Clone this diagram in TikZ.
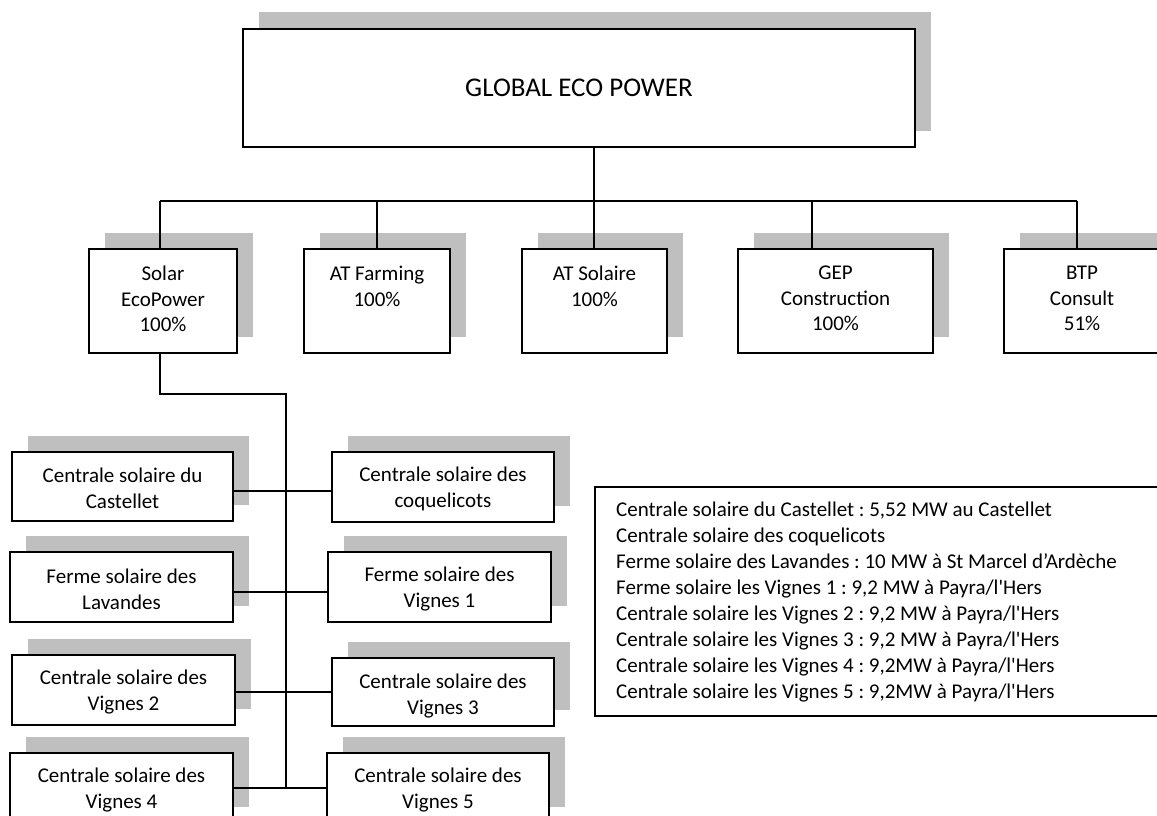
\documentclass[tikz,border=0pt]{standalone}
\usepackage{fontspec}
\setmainfont{Carlito}
\frenchspacing
\usetikzlibrary{backgrounds}
\definecolor{shadowc}{RGB}{191,191,191}
\newcommand\mkbox[5]{%
  \pgfmathsetmacro\bw{#4-#2}\pgfmathsetmacro\bh{#5-#3}%
  \pgfmathsetmacro\bx{(#2+#4)/2}\pgfmathsetmacro\by{(#3+#5)/2}%
  \node[box, minimum width=\bw pt, minimum height=\bh pt] (#1) at (\bx,\by) {};
  \begin{pgfonlayer}{background}
    \fill[shadowc] ([shift={(16,-16.5)}]#1.south west) rectangle ([shift={(16,-16.5)}]#1.north east);
  \end{pgfonlayer}}
\begin{document}
\begin{tikzpicture}[x=1pt,y=-1pt,
  box/.style={draw=black, line width=2pt, fill=white, inner sep=0pt, outer sep=0pt},
  conn/.style={draw=black, line width=1.7pt},
  lbl/.style={inner sep=0pt, align=center, font=\fontsize{21}{25.5}\selectfont},
  lbls/.style={inner sep=0pt, align=center, font=\fontsize{21}{26}\selectfont}]
\useasboundingbox (0,0) rectangle (1157,816);
% top
\mkbox{top}{243}{29}{915}{147}
\node[inner sep=0pt, font=\fontsize{27}{32}\selectfont] (ttop) at (top) {GLOBAL ECO POWER};
% level 2
\mkbox{S1}{89}{249}{237}{353}
\mkbox{S2}{304}{249}{450}{353}
\mkbox{S3}{522}{249}{667}{353}
\mkbox{S4}{738}{249}{933}{353}
\mkbox{S5}{1004}{249}{1160}{353}
\node[lbl, anchor=north] (tS1) at ([yshift=-17pt]S1.north) {Solar\\EcoPower\\100\%};
\node[lbl, anchor=north] (tS2) at ([yshift=-17pt]S2.north) {AT Farming\\100\%};
\node[lbl, anchor=north] (tS3) at ([yshift=-17pt]S3.north) {AT Solaire\\100\%};
\node[lbl, anchor=north] (tS4) at ([yshift=-17pt]S4.north) {GEP\\Construction\\100\%};
\node[lbl, anchor=north] (tS5) at ([yshift=-17pt]S5.north) {BTP\\Consult\\51\%};
% level 3
\mkbox{L1}{12}{452}{233}{521}
\mkbox{R1}{332}{452}{554}{522}
\mkbox{L2}{10}{552}{233}{622}
\mkbox{R2}{328}{552}{551}{622}
\mkbox{L3}{12}{655}{235}{725}
\mkbox{R3}{332}{658}{554}{726}
\mkbox{L4}{10}{753}{233}{823}
\mkbox{R4}{327}{753}{549}{823}
\node[lbls] (tL1) at ([yshift=-2pt]L1) {Centrale solaire du\\Castellet};
\node[lbls] (tR1) at ([yshift=-2pt]R1) {Centrale solaire des\\coquelicots};
\node[lbls] (tL2) at ([yshift=-2pt]L2) {Ferme solaire des\\Lavandes};
\node[lbls] (tR2) at ([yshift=-2pt]R2) {Ferme solaire des\\Vignes 1};
\node[lbls] (tL3) at ([yshift=-2pt]L3) {Centrale solaire des\\Vignes 2};
\node[lbls] (tR3) at ([yshift=-4pt]R3) {Centrale solaire des\\Vignes 3};
\node[lbls] (tL4) at ([yshift=-2pt]L4) {Centrale solaire des\\Vignes 4};
\node[lbls] (tR4) at ([yshift=-2pt]R4) {Centrale solaire des\\Vignes 5};
% legend
\node[box, anchor=north west, minimum width=575pt, minimum height=229pt] (leg) at (595,487) {};
\node[inner sep=0pt, anchor=north west, align=left, font=\fontsize{21}{25.9}\selectfont] (tleg) at (616,502)
 {Centrale solaire du Castellet : 5,52 MW au Castellet\\
  Centrale solaire des coquelicots\\
  Ferme solaire des Lavandes : 10 MW à St Marcel d’Ardèche\\
  Ferme solaire les Vignes 1 : 9,2 MW à Payra/l\textquotesingle Hers\\
  Centrale solaire les Vignes 2 : 9,2 MW à Payra/l\textquotesingle Hers\\
  Centrale solaire les Vignes 3 : 9,2 MW à Payra/l\textquotesingle Hers\\
  Centrale solaire les Vignes 4 : 9,2MW à Payra/l\textquotesingle Hers\\
  Centrale solaire les Vignes 5 : 9,2MW à Payra/l\textquotesingle Hers};
% connectors level 1-2
\coordinate (c0) at (594,201);
\coordinate (c1) at (160,201);
\coordinate (c2) at (377,201);
\coordinate (c3) at (594,201);
\coordinate (c4) at (812,201);
\coordinate (c5) at (1077,201);
\draw[conn] (c0 |- top.south) -- (c0);
\draw[conn] (c1) -- (c5);
\draw[conn] (c1) -- (c1 |- S1.north);
\draw[conn] (c2) -- (c2 |- S2.north);
\draw[conn] (c3) -- (c3 |- S3.north);
\draw[conn] (c4) -- (c4 |- S4.north);
\draw[conn] (c5) -- (c5 |- S5.north);
% Solar EcoPower to plants
\coordinate (sp1) at (286,394);
\coordinate (sp2) at (286,788);
\draw[conn] (c1 |- S1.south) |- (sp1) -- (sp2);
\coordinate (j1) at (286,491);
\coordinate (j2) at (286,592);
\coordinate (j3) at (286,692);
\coordinate (j4) at (286,788);
\draw[conn] (L1.east |- j1) -- (R1.west |- j1);
\draw[conn] (L2.east |- j2) -- (R2.west |- j2);
\draw[conn] (L3.east |- j3) -- (R3.west |- j3);
\draw[conn] (L4.east |- j4) -- (R4.west |- j4);
\end{tikzpicture}
\end{document}
